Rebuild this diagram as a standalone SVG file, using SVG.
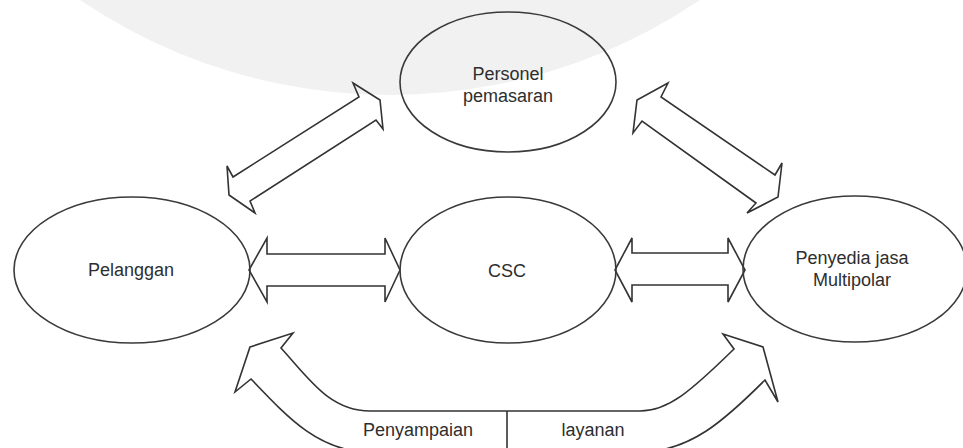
<svg xmlns="http://www.w3.org/2000/svg" width="963" height="448" viewBox="0 0 963 448">
<style>
.node{fill:none;stroke:#3a3a3a;stroke-width:1.6}
.arr{fill:none;stroke:#333;stroke-width:1.6;stroke-linejoin:miter}
.t{font-family:"Liberation Sans",Arial,sans-serif;font-size:18px;fill:#2e2e2e;text-anchor:middle}
</style>
<rect width="963" height="448" fill="#fff"/>
<g id="watermark">
<circle cx="390" cy="-458" r="553" fill="#f1f1f1"/>
</g>
<g id="connectors">
<polygon class="arr" points="353,83 380,100 383,129 376,120 250,201 255,213 229,195 227,166 233,177 359,97"/>
<polygon class="arr" points="668,83 637,100 633,133 642,121 756,203 747,213 778,197 782,163 775,175 661,97"/>
<polygon class="arr" points="249,270 267,238 267,254 385,254 385,238 400,270 385,302 385,286 267,286 267,302"/>
<polygon class="arr" points="615,270 632,238 632,253 728,253 728,238 745,270 728,302 728,285 632,285 632,302"/>
<path class="arr" d="M250,347 L293,333 L281,348 C310,380 330,411 370,411 L640,411 C668,411 690,392 734,349 L723,334 L763,347 L778,402 L765,380 C725,420 690,452 640,452 L370,452 C320,452 290,420 251,379 L235,392 Z"/>
<line class="arr" x1="507" y1="411" x2="507" y2="448"/>
<text class="t" x="418" y="436">Penyampaian</text>
<text class="t" x="593" y="436">layanan</text>
</g>
<g id="personel">
<ellipse class="node" cx="508" cy="82" rx="108" ry="70"/>
<text class="t" x="508" y="80">Personel</text>
<text class="t" x="508" y="102">pemasaran</text>
</g>
<g id="pelanggan">
<ellipse class="node" cx="132" cy="270" rx="118" ry="73"/>
<text class="t" x="131" y="276">Pelanggan</text>
</g>
<g id="csc">
<ellipse class="node" cx="508" cy="270" rx="108" ry="73"/>
<text class="t" x="507" y="277">CSC</text>
</g>
<g id="penyedia">
<ellipse class="node" cx="855" cy="269" rx="112" ry="73"/>
<text class="t" x="852" y="264">Penyedia jasa</text>
<text class="t" x="852" y="286">Multipolar</text>
</g>
</svg>
